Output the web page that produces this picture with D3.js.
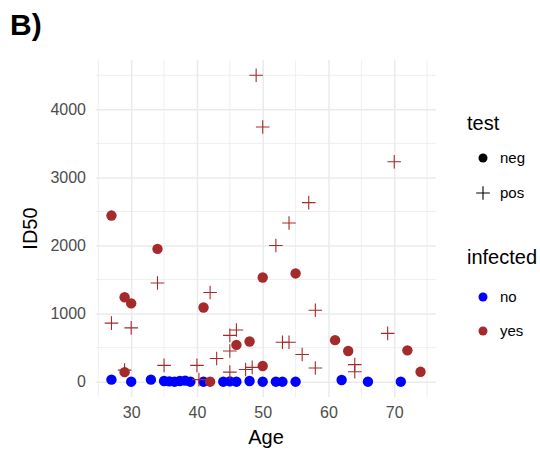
<!DOCTYPE html>
<html>
    <head>
        <title>ID50 by Age</title>
        <script src="https://d3js.org/d3.v7.min.js"></script>
        <style>
            body { margin: 0; background: #fff; }
            text { font-family: "Liberation Sans", Arial, sans-serif; }
        </style>
    </head>
    <body>
        <div id="chart"></div>
        <script>
            //  data
            //  test = neg, infected = no
            const negNoAge  = [27, 30, 33, 35, 35.8, 36.6, 37.4, 38.2, 39, 41, 44, 45, 46, 48, 50, 52, 53, 55, 62, 66, 71];
            const negNoID50 = [30, 0, 30, 10, 5, 0, 10, 15, 0, 0, 0, 5, 0, 10, 0, 0, 0, 0, 25, 0, 0];
            //  test = neg, infected = yes
            const negYesAge  = [27, 34, 29, 30, 41, 29, 42, 46, 48, 50, 50, 55, 61, 63, 72, 74];
            const negYesID50 = [2440, 1950, 1240, 1150, 1090, 140, 0, 540, 590, 230, 1530, 1590, 610, 450, 460, 145];
            //  test = pos, infected = yes
            const posYesAge  = [49, 50, 70, 57, 54, 52, 34, 42, 27, 30, 35, 40, 43, 45, 46, 45, 45, 47.4, 48.4, 53, 54, 56, 58, 58, 69, 64, 64, 29, 40.3];
            const posYesID50 = [4500, 3740, 3230, 2630, 2330, 2000, 1450, 1310, 860, 790, 240, 240, 340, 680, 760, 450, 140, 180, 210, 580, 580, 400, 1050, 200, 710, 250, 145, 170, 30];

            const xTicks = [30, 40, 50, 60, 70];
            const yTicks = [0, 1000, 2000, 3000, 4000];
            const testLevels = ["neg", "pos"];
            const infectedLevels = ["no", "yes"];

            //  chart dimensions
            const width = 540;
            const height = 450;
            const panel = {left: 96, right: 436, top: 60, bottom: 397};

            const infectedColor = {no: "#0000ff", yes: "#a52a2a"};
            const gridColor = "#ebebeb";

            const points = [];
            negNoAge.forEach((a, i) => points.push({age: a, id50: negNoID50[i], test: "neg", infected: "no"}));
            negYesAge.forEach((a, i) => points.push({age: a, id50: negYesID50[i], test: "neg", infected: "yes"}));
            posYesAge.forEach((a, i) => points.push({age: a, id50: posYesID50[i], test: "pos", infected: "yes"}));

            //  ggplot style 5% expansion
            const xExt = d3.extent(points, d => d.age);
            const yExt = d3.extent(points, d => d.id50);
            const xPad = (xExt[1] - xExt[0]) * 0.05;
            const yPad = (yExt[1] - yExt[0]) * 0.05;

            const x = d3.scaleLinear()
                .domain([xExt[0] - xPad, xExt[1] + xPad])
                .range([panel.left, panel.right]);
            const y = d3.scaleLinear()
                .domain([yExt[0] - yPad, yExt[1] + yPad])
                .range([panel.bottom, panel.top]);

            const svg = d3.select("#chart").append("svg")
                .attr("width", width)
                .attr("height", height);

            //  minor + major grid
            const xMinor = d3.range(25, 80, 10);
            const yMinor = d3.range(500, 5000, 1000);
            const grid = svg.append("g");
            grid.selectAll(".xminor").data(xMinor).join("line")
                .attr("x1", d => x(d)).attr("x2", d => x(d))
                .attr("y1", panel.top).attr("y2", panel.bottom)
                .attr("stroke", gridColor).attr("stroke-width", 0.8);
            grid.selectAll(".yminor").data(yMinor).join("line")
                .attr("y1", d => y(d)).attr("y2", d => y(d))
                .attr("x1", panel.left).attr("x2", panel.right)
                .attr("stroke", gridColor).attr("stroke-width", 0.8);

            //  axes: use d3 axes, then restyle into grid lines
            const xAxis = svg.append("g")
                .attr("transform", `translate(0,${panel.bottom})`)
                .call(d3.axisBottom(x).tickValues(xTicks).tickFormat(d3.format("d")).tickSize(0));
            xAxis.select(".domain").remove();
            xAxis.selectAll(".tick line")
                .attr("y2", -(panel.bottom - panel.top))
                .attr("stroke", gridColor).attr("stroke-width", 1.5);
            xAxis.selectAll(".tick text")
                .attr("y", 10)
                .attr("fill", "#4d4d4d")
                .style("font-size", "16px");

            const yAxis = svg.append("g")
                .attr("transform", `translate(${panel.left},0)`)
                .call(d3.axisLeft(y).tickValues(yTicks).tickFormat(d3.format("d")).tickSize(0));
            yAxis.select(".domain").remove();
            yAxis.selectAll(".tick line")
                .attr("x2", panel.right - panel.left)
                .attr("stroke", gridColor).attr("stroke-width", 1.5);
            yAxis.selectAll(".tick text")
                .attr("x", -10)
                .attr("fill", "#4d4d4d")
                .style("font-size", "16px");

            //  axis titles
            svg.append("text")
                .attr("x", (panel.left + panel.right) / 2)
                .attr("y", 444)
                .attr("text-anchor", "middle")
                .style("font-size", "20px")
                .text("Age");
            svg.append("text")
                .attr("transform", `translate(37,${(panel.top + panel.bottom) / 2}) rotate(-90)`)
                .attr("text-anchor", "middle")
                .style("font-size", "20px")
                .text("ID50");

            //  panel tag
            svg.append("text")
                .attr("x", 10)
                .attr("y", 35)
                .style("font-size", "30px")
                .style("font-weight", "bold")
                .text("B)");

            //  points
            const r = 5.2;
            const arm = 6.8;
            const pts = svg.append("g")
                .selectAll("g")
                .data(points)
                .join("g")
                .attr("transform", d => `translate(${x(d.age)},${y(d.id50)})`);

            pts.filter(d => d.test === "neg").append("circle")
                .attr("r", r)
                .attr("fill", d => infectedColor[d.infected]);

            pts.filter(d => d.test === "pos").append("path")
                .attr("d", `M${-arm},0H${arm}M0,${-arm}V${arm}`)
                .attr("stroke", d => infectedColor[d.infected])
                .attr("stroke-width", 1.1)
                .attr("fill", "none");

            //  legends
            const legend = svg.append("g");
            const lx = 467;
            const keyX = 483;
            const labX = 500;

            legend.append("text").attr("x", lx).attr("y", 130).style("font-size", "20px").text("test");
            const testKeys = legend.selectAll(".testkey").data(testLevels).join("g")
                .attr("transform", (d, i) => `translate(${keyX},${158 + i * 35})`);
            testKeys.filter(d => d === "neg").append("circle").attr("r", 4.5).attr("fill", "#000");
            testKeys.filter(d => d === "pos").append("path")
                .attr("d", `M${-arm},0H${arm}M0,${-arm}V${arm}`)
                .attr("stroke", "#000").attr("stroke-width", 1.1);
            testKeys.append("text")
                .attr("x", labX - keyX).attr("dy", "0.35em")
                .style("font-size", "15px")
                .text(d => d);

            legend.append("text").attr("x", lx).attr("y", 264).style("font-size", "20px").text("infected");
            const infKeys = legend.selectAll(".infkey").data(infectedLevels).join("g")
                .attr("transform", (d, i) => `translate(${keyX},${297 + i * 34})`);
            infKeys.append("circle").attr("r", 4.5).attr("fill", d => infectedColor[d]);
            infKeys.append("text")
                .attr("x", labX - keyX).attr("dy", "0.35em")
                .style("font-size", "15px")
                .text(d => d);
        </script>
    </body>
</html>
